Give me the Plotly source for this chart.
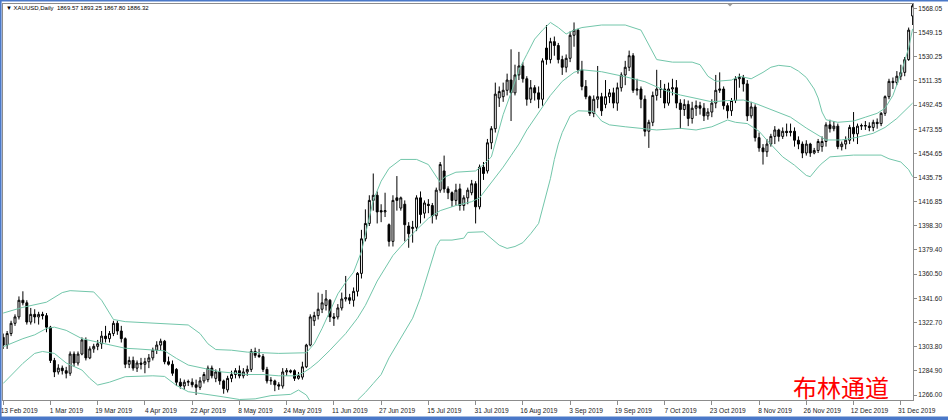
import pandas as pd
import plotly.graph_objects as go

# ---------------- data ----------------
trading_days = [d for d in pd.bdate_range("2019-02-13", "2020-01-06")
                if d.strftime("%Y-%m-%d") not in ("2019-12-25", "2020-01-01")]
dates = [d.strftime("%Y-%m-%d") for d in trading_days]

opens = [1311,1305,1314,1322,1327,1340,1338,1323,1329,1327,1329,1328,1319,1293,1284,1287,1285,1283,1298,1291,
         1298,1309,1295,1302,1304,1306,1312,1310,1314,1322,1316,1310,1290,1293,1287,1291,1290,1292,1295,1301,
         1305,1308,1292,1290,1286,1276,1273,1276,1276,1274,1272,1277,1278,1287,1279,1284,1277,1270,1279,1282,
         1285,1281,1284,1286,1300,1297,1296,1286,1277,1277,1274,1273,1284,1285,1285,1279,1280,1288,1305,1324,
         1328,1333,1336,1340,1327,1327,1334,1341,1342,1340,1347,1361,1388,1400,1418,1422,1410,1409,1399,1386,
         1420,1412,1415,1398,1396,1397,1420,1408,1415,1414,1406,1426,1441,1427,1424,1418,1427,1414,1420,1424,
         1431,1413,1444,1441,1463,1474,1498,1499,1504,1512,1502,1516,1523,1513,1497,1506,1502,1497,1537,1528,
         1542,1539,1528,1522,1529,1547,1551,1520,1507,1499,1486,1497,1499,1493,1499,1502,1494,1506,1516,1522,
         1531,1504,1505,1497,1472,1479,1500,1505,1505,1494,1505,1506,1494,1489,1493,1482,1490,1492,1490,1484,
         1487,1494,1504,1505,1492,1488,1496,1513,1514,1509,1484,1491,1467,1459,1456,1462,1468,1473,1468,1472,
         1471,1472,1465,1462,1455,1462,1455,1457,1460,1464,1477,1474,1476,1460,1462,1465,1475,1470,1476,1476,
         1476,1475,1479,1478,1486,1499,1511,1510,1515,1518,1528,1562]
highs = [1314,1316,1324,1329,1343,1347,1340,1334,1333,1331,1331,1330,1320,1295,1290,1289,1288,1300,1300,1300,
         1311,1311,1304,1306,1309,1316,1320,1316,1324,1324,1320,1311,1296,1296,1293,1295,1295,1298,1303,1308,
         1310,1309,1296,1293,1287,1279,1278,1278,1279,1278,1280,1284,1289,1289,1286,1287,1278,1281,1285,1287,
         1289,1287,1289,1302,1303,1302,1298,1288,1280,1278,1276,1287,1287,1286,1286,1284,1292,1306,1329,1331,
         1346,1345,1348,1341,1330,1337,1346,1359,1345,1350,1362,1395,1411,1422,1439,1425,1415,1424,1400,1422,
         1437,1421,1418,1401,1402,1422,1425,1418,1419,1416,1428,1448,1453,1429,1425,1431,1431,1422,1428,1434,
         1433,1446,1448,1466,1476,1510,1507,1510,1517,1536,1524,1534,1526,1515,1512,1508,1507,1529,1555,1545,
         1546,1541,1531,1532,1550,1557,1552,1527,1512,1500,1500,1523,1502,1512,1505,1506,1510,1518,1527,1535,
         1533,1513,1507,1500,1481,1503,1520,1512,1509,1510,1513,1512,1497,1497,1496,1495,1496,1495,1494,1490,
         1497,1516,1518,1507,1494,1498,1515,1517,1516,1512,1495,1493,1471,1462,1466,1470,1476,1474,1475,1478,
         1478,1475,1468,1464,1465,1463,1459,1466,1468,1479,1481,1480,1478,1464,1468,1477,1487,1478,1478,1480,
         1479,1481,1482,1487,1500,1513,1514,1519,1524,1530,1553,1588]
lows = [1302,1302,1312,1320,1325,1336,1321,1321,1322,1321,1325,1315,1291,1280,1282,1282,1279,1281,1288,1289,
        1297,1293,1294,1299,1301,1302,1307,1307,1312,1313,1307,1287,1287,1285,1284,1286,1283,1287,1293,1298,
        1301,1290,1289,1281,1273,1271,1270,1273,1272,1266,1270,1275,1276,1279,1276,1274,1267,1268,1276,1279,
        1279,1279,1281,1284,1295,1295,1284,1275,1274,1269,1270,1271,1281,1283,1277,1278,1278,1287,1304,1320,
        1325,1330,1332,1323,1320,1325,1332,1339,1337,1335,1343,1357,1386,1398,1410,1400,1401,1405,1382,1382,
        1410,1410,1386,1381,1385,1394,1400,1404,1408,1400,1403,1424,1424,1419,1413,1414,1410,1410,1415,1422,
        1400,1411,1434,1439,1458,1471,1491,1495,1500,1480,1500,1512,1510,1492,1494,1496,1490,1492,1524,1525,
        1531,1525,1516,1518,1526,1538,1517,1504,1497,1484,1483,1490,1484,1490,1494,1490,1488,1503,1508,1519,
        1502,1500,1490,1468,1459,1476,1496,1498,1490,1492,1500,1490,1474,1484,1476,1478,1484,1485,1480,1481,
        1483,1490,1502,1489,1482,1484,1494,1506,1503,1480,1482,1464,1456,1446,1452,1460,1462,1464,1466,1468,
        1468,1460,1458,1451,1453,1452,1454,1455,1456,1460,1471,1472,1458,1457,1458,1462,1464,1462,1473,1473,
        1472,1472,1474,1476,1484,1497,1505,1508,1512,1515,1527,1555]
closes = [1305,1314,1322,1327,1340,1338,1323,1329,1327,1329,1328,1319,1293,1284,1287,1285,1283,1298,1291,1298,
          1309,1295,1302,1304,1306,1312,1310,1314,1322,1316,1310,1290,1293,1287,1291,1290,1292,1295,1301,1305,
          1308,1292,1290,1283,1276,1273,1276,1276.5,1274,1272,1277,1282,1287,1281,1284,1277,1271,1279,1282,1285,
          1281,1284,1286,1300,1297,1296,1286,1277,1277.5,1274,1273,1284,1285,1284,1279,1281,1288,1305,1327,1328,
          1333,1338,1341,1327,1326,1334,1341,1342,1340,1347,1361,1388,1400,1418,1422,1409,1409,1410,1386,1418,
          1418,1420,1399,1392,1397,1420,1407,1416,1414,1406,1426,1446,1427,1424,1418,1426,1414,1420,1426,1431,
          1413,1444,1439,1463,1474,1501,1503,1504,1512,1502,1516,1523,1513,1497,1506,1502,1497,1527,1528,1542,
          1539,1528,1522,1529,1547,1551,1520,1507,1499,1486,1497,1499,1488,1499,1502,1494,1506,1516,1522,1531,
          1504,1505,1497,1472,1479,1500,1505,1505,1494,1505,1506,1494,1489,1493,1482,1490,1492,1490,1484,1487,
          1494,1504,1505,1492,1488,1496,1513,1514,1509,1484,1491,1467,1459,1456,1462,1468,1473,1468,1472,1471,
          1472,1465,1462,1455,1462,1455,1457,1464,1464,1477,1474,1476,1460,1462,1465,1475,1470,1476,1476.5,1476.5,
          1475,1479,1478,1486,1499,1511,1510,1515,1518,1528,1551,1570]

# Bollinger bands (20, 2) at sample trading days (bar numbers)
upper_bar = [0,5,11,15,17,23,25,28,31,37,47,50,52,54,58,62,70,77,79,81,83,85,87,89,91,93,94,96,98,101,105,108,
             110,111,112,115,120,122,124,125,127,129,131,133,135,137,139,141,143,145,147,152,158,162,164,166,170,
             175,177,179,181,185,187,190,193,195,197,200,202,204,206,207,208,209,212,216,219,222,224,226,228,230,231]
upper_val = [1330,1334.5,1338.5,1346,1347.5,1346.5,1340,1325,1323.3,1322.5,1320.7,1314,1306,1301.5,1301,1299.5,
             1298.5,1299,1306,1318,1332,1345,1354,1362,1378,1405,1418,1433,1443,1450,1450,1446,1437,1432,1436,
             1440,1441,1446,1452,1463,1485,1502,1520,1532,1544,1551,1557,1553,1548,1551,1553,1555,1555,1551,1540,
             1528,1526,1526,1524,1515,1511,1512,1515,1513,1518,1522,1523.5,1522.5,1519,1514,1505,1498,1487,1481,
             1479,1480,1483,1486,1490,1500,1517,1537,1552]
middle_bar = [0,5,8,11,13,16,20,25,31,34,38,41,44,47,51,55,59,62,66,70,74,76,78,80,83,87,90,92,95,97,99,101,104,
              108,111,115,119,121,123,125,127,129,131,133,136,139,142,145,147,152,158,163,168,172,176,180,184,188,
              191,196,200,204,207,209,213,217,221,224,227,229,231]
middle_val = [1303.7,1310,1313,1318,1319,1316.5,1310,1306.5,1302.5,1302,1301,1300.5,1294.6,1289.4,1286.8,1284.2,
              1283,1282,1282,1281,1281,1283,1287,1292,1301,1314,1326,1336,1355,1365,1375,1382,1392,1404,1410,1414,
              1417,1420,1428,1436,1444,1453,1462,1473,1487,1500,1511,1518,1520,1518.5,1514.6,1510.7,1504,1500.3,
              1497.7,1495,1496,1496.4,1493.8,1488,1483,1474.5,1468.5,1465.2,1465.2,1467.3,1470.4,1475,1482,1488,1494]
lower_bar = [0,2,5,8,10,13,16,20,22,24,27,31,35,38,41,44,47,52,56,60,64,68,73,75,77,78,80,86,88,90,92,94,96,98,
             100,102,104,106,108,110,111,114,117,118,122,124,126,128,130,132,134,136,137,139,140,141,142,144,146,
             150,152,154,158,163,166,172,176,180,184,186,189,192,194,198,201,204,205,207,208,210,216,223,225,228,
             230,231]
lower_val = [1275,1281.6,1290.7,1298.5,1300,1298.5,1291,1285.5,1279,1273.8,1276,1280.3,1281,1281,1280.5,1273.5,
             1268.6,1266.5,1264.5,1262.5,1263,1265.5,1266.5,1269.9,1266,1261,1250,1245,1255,1262,1268,1275,1282,
             1295,1305,1316,1326,1342,1362,1382,1387,1387,1388.5,1393,1393.5,1388,1383,1380.5,1382,1385,1392,1400,
             1412,1435,1450,1462,1471,1484,1488,1487.5,1480,1477,1475.5,1474.3,1473,1474.3,1473,1475.5,1480.8,1479,
             1478,1472,1465,1452,1445.5,1437.5,1436.5,1444,1447,1452,1453.4,1453.4,1450.5,1448,1442,1436.5]

price_ticks = [1266.00,1284.90,1303.80,1322.70,1341.60,1360.50,1379.40,1398.30,1416.85,1435.75,
               1454.65,1473.55,1492.45,1511.35,1530.25,1549.15,1568.05]
date_tick_step = 12
header_text = "\u25bc XAUUSD,Daily  1869.57 1893.25 1867.80 1886.32"
title_cn = "布林通道"

# ---------------- figure ----------------
W, H = 948, 420
ML, MR, MT, MB = 3, 35, 4, 20
band_color = "#72c6aa"
axis_color = "#8c8c8c"
label_font = dict(family="Liberation Sans, Arial, sans-serif", size=6.6, color="#1a1a1a")

fig = go.Figure()
for bars, vals in ((upper_bar, upper_val), (middle_bar, middle_val), (lower_bar, lower_val)):
    fig.add_trace(go.Scatter(x=[dates[i] for i in bars], y=vals, mode="lines",
                             line=dict(color=band_color, width=1), hoverinfo="skip",
                             showlegend=False))

fig.add_trace(go.Candlestick(
    x=dates, open=opens, high=highs, low=lows, close=closes,
    increasing=dict(fillcolor="#ffffff", line=dict(color="#000000", width=1)),
    decreasing=dict(fillcolor="#000000", line=dict(color="#000000", width=1)),
    whiskerwidth=0, showlegend=False))

tick_dates = dates[0:229:date_tick_step]
tick_text = [pd.Timestamp(d).strftime("%-d %b %Y") for d in tick_dates]

fig.update_layout(
    template="none", width=W, height=H, autosize=False,
    margin=dict(l=ML, r=MR, t=MT, b=MB, pad=0),
    paper_bgcolor="#ffffff", plot_bgcolor="#ffffff",
    boxgap=0.3, showlegend=False,
    font=label_font,
    xaxis=dict(type="category", categoryorder="array", categoryarray=dates,
               range=[-0.05, 231.1], rangeslider=dict(visible=False),
               tickmode="array", tickvals=tick_dates, ticktext=tick_text,
               ticks="outside", ticklen=4, tickwidth=1, tickcolor=axis_color,
               ticklabelshift=16, tickfont=label_font,
               showline=True, linecolor=axis_color, linewidth=1, mirror=True,
               showgrid=False, zeroline=False, automargin=False, fixedrange=True),
    yaxis=dict(side="right", range=[1262.1, 1571.4],
               tickmode="array", tickvals=price_ticks,
               ticktext=[f"{v:.2f}" for v in price_ticks],
               ticks="outside", ticklen=3, tickwidth=1, tickcolor=axis_color,
               tickfont=label_font,
               showline=True, linecolor=axis_color, linewidth=1, mirror=True,
               showgrid=False, zeroline=False, automargin=False, fixedrange=True),
)

def px_x(px):
    return (px - ML) / (W - ML - MR)

def px_y(py):
    return (H - MB - py) / (H - MT - MB)

fig.add_annotation(x=px_x(4), y=px_y(8), xref="paper", yref="paper", text=header_text,
                   showarrow=False, xanchor="left", yanchor="middle",
                   font=dict(family="Liberation Sans, Arial, sans-serif", size=6.0, color="#000000"))
fig.add_annotation(x=px_x(841), y=px_y(386), xref="paper", yref="paper", text=title_cn,
                   showarrow=False, xanchor="center", yanchor="middle",
                   font=dict(family="Noto Sans CJK SC", size=24, color="#ff0000"))

frame_blue = "#4a78c8"
for (x0, x1, y0, y1) in ((0, 948, 0, 1.6), (0, 1.6, 0, 420), (0, 948, 416.6, 420)):
    fig.add_shape(type="rect", xref="paper", yref="paper",
                  x0=px_x(x0), x1=px_x(x1), y0=px_y(y1), y1=px_y(y0),
                  line=dict(width=0), fillcolor=frame_blue, layer="above")

# small chart-shift marker at the top edge
fig.add_shape(type="path", xref="paper", yref="paper",
              path=(f"M {px_x(727)} {px_y(3.5)} L {px_x(733)} {px_y(3.5)} "
                    f"L {px_x(730)} {px_y(6.5)} Z"),
              line=dict(width=0), fillcolor="#9a9a9a", layer="above")

fig.write_html("out.html", config={"displayModeBar": False, "staticPlot": True},
               post_script="document.body.style.margin='0';document.body.style.overflow='hidden';")
